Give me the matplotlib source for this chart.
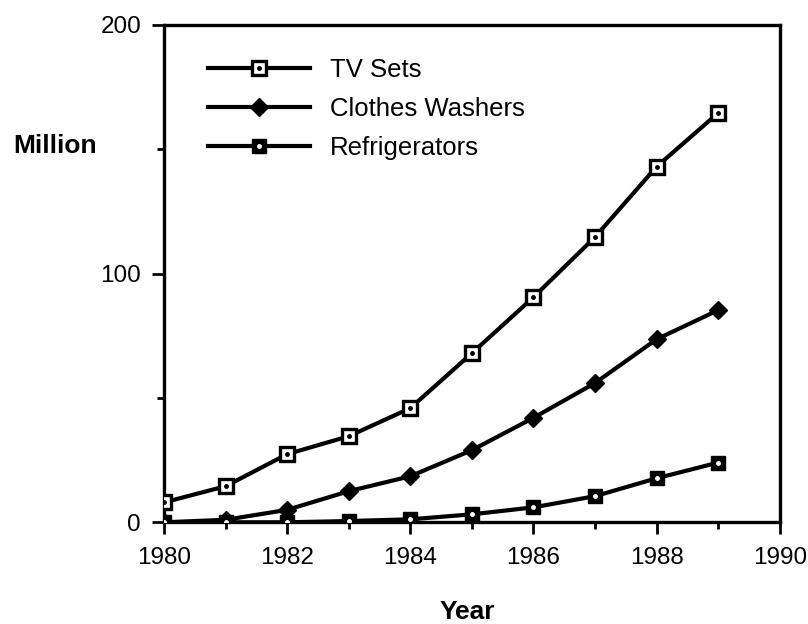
import matplotlib
matplotlib.use("Agg")
import matplotlib.pyplot as plt
from matplotlib.legend_handler import HandlerTuple

plt.rcParams['font.family'] = ['Liberation Sans', 'DejaVu Sans']

years = [1980, 1981, 1982, 1983, 1984, 1985, 1986, 1987, 1988, 1989]
tv_sets = [8, 14.5, 27.4, 34.6, 45.9, 68, 90.5, 114.7, 143, 164.6]
clothes_washers = [0, 1, 5, 12.5, 18.5, 29, 42, 56, 73.6, 85.3]
refrigerators = [0, 0, 0, 0.5, 1.2, 3.2, 6, 10.5, 17.7, 24]

x_ticks = [1980, 1982, 1984, 1986, 1988, 1990]
y_ticks = [0, 100, 200]

fig = plt.figure(figsize=(8.08, 6.24), dpi=100)
ax = fig.add_axes([0.203, 0.163, 0.762, 0.797])

lw = 3.0
ms = 10

l_tv, = ax.plot(years, tv_sets, color='black', lw=lw, marker='s', ms=ms,
                mfc='white', mec='black', mew=2.4, zorder=3)
d_tv, = ax.plot(years, tv_sets, ls='none', marker='o', ms=2.5,
                color='black', zorder=4)
l_cw, = ax.plot(years, clothes_washers, color='black', lw=lw, marker='D',
                ms=9, mfc='black', mec='black', zorder=3)
l_rf, = ax.plot(years, refrigerators, color='black', lw=lw, marker='s', ms=ms,
                mfc='black', mec='black', zorder=3)
d_rf, = ax.plot(years, refrigerators, ls='none', marker='o', ms=2.5,
                color='white', zorder=4)

ax.set_xlim(1980, 1990)
ax.set_ylim(0, 200)
ax.set_xticks(x_ticks)
ax.set_xticks(range(1981, 1990, 2), minor=True)
ax.set_yticks(y_ticks)
ax.set_yticks([50, 150], minor=True)
ax.tick_params(axis='both', which='major', direction='out', length=8.5,
               width=2, labelsize=17.5)
ax.tick_params(axis='x', which='major', pad=9)
ax.tick_params(axis='y', which='major', pad=8)
ax.tick_params(axis='both', which='minor', direction='out', length=5, width=2)
for s in ax.spines.values():
    s.set_linewidth(2.4)

ax.set_xlabel('Year', fontsize=19, fontweight='bold', va='center')
ax.xaxis.set_label_coords(0.492, -0.181)
fig.text(0.017, 0.766, 'Million', fontsize=19, fontweight='bold',
         ha='left', va='center')

leg = ax.legend([(l_tv, d_tv), (l_cw,), (l_rf, d_rf)],
                ['TV Sets', 'Clothes Washers', 'Refrigerators'],
                handler_map={tuple: HandlerTuple(ndivide=1)},
                loc='upper left', bbox_to_anchor=(0.071, 0.934),
                frameon=False, fontsize=18.5, handlelength=3.97,
                handletextpad=0.78, labelspacing=0.58,
                borderaxespad=0, borderpad=0)

fig.savefig('out.png', dpi=100, facecolor='white')
